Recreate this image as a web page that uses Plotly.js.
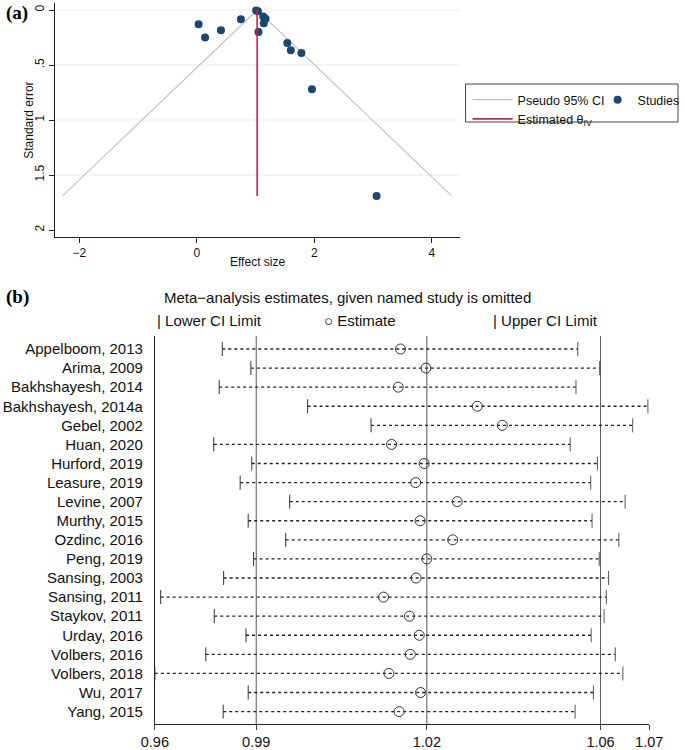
<!DOCTYPE html>
<html><head><meta charset="utf-8">
<script src="https://cdn.plot.ly/plotly-3.0.1.min.js"></script>
<style>html,body{margin:0;padding:0;background:#fff;overflow:hidden;width:685px;height:750px}#chart{width:685px;height:750px;overflow:hidden}</style>
</head><body><div id="chart"></div>
<script>
// ---------- Panel (a): funnel plot ----------
const studyEffect = [0.03, 0.14, 0.41, 0.75, 1.01, 1.04, 1.13, 1.17, 1.14, 1.05, 1.54, 1.60, 1.78, 1.96, 3.06];
const studySE     = [0.13, 0.25, 0.185, 0.085, 0.005, 0.012, 0.06, 0.08, 0.12, 0.20, 0.30, 0.365, 0.39, 0.72, 1.69];
const thetaIV = 1.026;
const maxSE = 1.69;
const seTicks = [0, 0.5, 1, 1.5, 2];
const seTickText = ['0', '.5', '1', '1.5', '2'];
const seGrid = [0, 0.5, 1, 1.5];
const esTicks = [-2, 0, 2, 4];
const esTickText = ['\u22122', '0', '2', '4'];

// ---------- Panel (b): leave-one-out ----------
const studies = ['Appelboom, 2013','Arima, 2009','Bakhshayesh, 2014','Bakhshayesh, 2014a','Gebel, 2002',
  'Huan, 2020','Hurford, 2019','Leasure, 2019','Levine, 2007','Murthy, 2015','Ozdinc, 2016','Peng, 2019',
  'Sansing, 2003','Sansing, 2011','Staykov, 2011','Urday, 2016','Volbers, 2016','Volbers, 2018','Wu, 2017','Yang, 2015'];
const ciLower  = [0.9781,0.9845,0.9774,0.9972,1.0114,0.9762,0.9847,0.9821,0.9932,0.9839,0.9923,0.9851,0.9784,0.9643,0.9763,0.9834,0.9744,0.9630,0.9839,0.9783];
const estimate = [1.0180,1.0237,1.0175,1.0352,1.0408,1.0160,1.0233,1.0214,1.0307,1.0224,1.0297,1.0239,1.0215,1.0142,1.0200,1.0222,1.0202,1.0154,1.0225,1.0177];
const ciUpper  = [1.0577,1.0626,1.0573,1.0734,1.0700,1.0560,1.0621,1.0606,1.0683,1.0609,1.0669,1.0625,1.0646,1.0641,1.0636,1.0607,1.0661,1.0678,1.0612,1.0571];
const overallLines = [0.9857, 1.0239, 1.0628];
const loTicks = [0.9630, 0.9857, 1.0239, 1.0628, 1.0737];
const loTickText = ['0.96', '0.99', '1.02', '1.06', '1.07'];

const W = 685, H = 750;
const px = v => v / W, py = v => 1 - v / H;
const rows = studies.map((s, i) => i + 1);

const sans = 'Liberation Sans, Arial, Helvetica, sans-serif';
const serif = 'Liberation Serif, Times New Roman, serif';

const dotX = [], dotY = [];
ciLower.forEach((lo, i) => { dotX.push(lo, ciUpper[i], null); dotY.push(rows[i], rows[i], null); });

const traces = [
  { x: [thetaIV - 1.96 * maxSE, thetaIV, thetaIV + 1.96 * maxSE], y: [maxSE, 0, maxSE],
    mode: 'lines', line: { color: '#c4c4c4', width: 1.2 }, name: 'Pseudo 95% CI',
    xaxis: 'x', yaxis: 'y', legend: 'legend', hoverinfo: 'skip' },
  { x: studyEffect, y: studySE, mode: 'markers', name: 'Studies',
    marker: { color: '#1a476f', size: 8 }, xaxis: 'x', yaxis: 'y', legend: 'legend2' },
  { x: [thetaIV, thetaIV], y: [0, maxSE], mode: 'lines', name: 'Estimated \u03b8<sub>IV</sub>',
    line: { color: '#c8244a', width: 1.6 }, xaxis: 'x', yaxis: 'y', legend: 'legend' },
  { x: dotX, y: dotY, mode: 'lines', line: { color: '#222', width: 1.3, dash: 'dot' },
    xaxis: 'x2', yaxis: 'y2', showlegend: false, hoverinfo: 'skip' },
  { x: ciLower, y: rows, mode: 'markers', marker: { symbol: 'line-ns', size: 10, line: { color: '#333', width: 1 } },
    xaxis: 'x2', yaxis: 'y2', showlegend: false },
  { x: ciUpper, y: rows, mode: 'markers', marker: { symbol: 'line-ns', size: 10, line: { color: '#555', width: 1 } },
    xaxis: 'x2', yaxis: 'y2', showlegend: false },
  { x: estimate, y: rows, mode: 'markers', marker: { symbol: 'circle-open', size: 10, color: '#333', line: { width: 1 } },
    xaxis: 'x2', yaxis: 'y2', showlegend: false }
];

const shapes = [];
seGrid.forEach(v => shapes.push({ type: 'line', xref: 'x domain', yref: 'y', x0: 0, x1: 1, y0: v, y1: v,
  line: { color: '#ebebeb', width: 1 }, layer: 'below' }));
overallLines.forEach(v => shapes.push({ type: 'line', xref: 'x2', yref: 'y2 domain', x0: v, x1: v, y0: 0, y1: 1,
  line: { color: '#555', width: 1 }, layer: 'below' }));
// legend frame for panel (a)
shapes.push({ type: 'rect', xref: 'paper', yref: 'paper', x0: px(469), x1: px(683), y0: py(84), y1: py(122),
  line: { color: '#444', width: 1 }, fillcolor: 'rgba(0,0,0,0)' });

const annotations = [
  { text: '<b>(a)</b>', x: px(4), y: py(13), xref: 'paper', yref: 'paper', xanchor: 'left', yanchor: 'middle',
    showarrow: false, font: { family: serif, size: 19, color: '#000' } },
  { text: '<b>(b)</b>', x: px(4), y: py(297), xref: 'paper', yref: 'paper', xanchor: 'left', yanchor: 'middle',
    showarrow: false, font: { family: serif, size: 19, color: '#000' } },
  { text: 'Effect size', x: px(259), y: py(262), xref: 'paper', yref: 'paper', xanchor: 'center', yanchor: 'middle',
    showarrow: false, font: { family: sans, size: 12, color: '#111' } },
  { text: 'Standard error', x: px(29), y: py(120), xref: 'paper', yref: 'paper', xanchor: 'center', yanchor: 'middle',
    textangle: -90, showarrow: false, font: { family: sans, size: 12, color: '#111' } },
  { text: 'Meta\u2212analysis estimates, given named study is omitted', x: px(163), y: py(297), xref: 'paper', yref: 'paper',
    xanchor: 'left', yanchor: 'middle', showarrow: false, font: { family: sans, size: 15, color: '#111' } },
  { text: '| Lower CI Limit', x: px(156), y: py(321), xref: 'paper', yref: 'paper', xanchor: 'left', yanchor: 'middle',
    showarrow: false, font: { family: sans, size: 15, color: '#111' } },
  { text: '\u25cb Estimate', x: px(324), y: py(321), xref: 'paper', yref: 'paper', xanchor: 'left', yanchor: 'middle',
    showarrow: false, font: { family: sans, size: 15, color: '#111' } },
  { text: '| Upper CI Limit', x: px(495), y: py(321), xref: 'paper', yref: 'paper', xanchor: 'left', yanchor: 'middle',
    showarrow: false, font: { family: sans, size: 15, color: '#111' } }
];

const layout = {
  width: W, height: H, margin: { l: 0, r: 0, t: 0, b: 0 },
  paper_bgcolor: '#fff', plot_bgcolor: 'rgba(0,0,0,0)',
  font: { family: sans, color: '#111' },
  showlegend: true,
  xaxis: { domain: [px(55), px(463.3)], range: [-2.422, 4.479], tickmode: 'array', tickvals: esTicks, ticktext: esTickText,
    showline: true, linecolor: '#222', linewidth: 1, ticks: 'outside', ticklen: 5, tickcolor: '#222',
    showgrid: false, zeroline: false, tickfont: { size: 12 }, anchor: 'y' },
  yaxis: { domain: [py(237), py(3)], range: [2.0636, -0.0636], tickmode: 'array', tickvals: seTicks, ticktext: seTickText,
    tickangle: -90, showline: true, linecolor: '#222', linewidth: 1, ticks: 'outside', ticklen: 5, tickcolor: '#222',
    showgrid: false, zeroline: false, tickfont: { size: 12 }, anchor: 'x' },
  xaxis2: { domain: [px(156), px(654)], range: [0.9630, 1.0737], tickmode: 'array', tickvals: loTicks, ticktext: loTickText,
    showline: true, linecolor: '#222', linewidth: 1, ticks: 'outside', ticklen: 5, tickcolor: '#444',
    showgrid: false, zeroline: false, tickfont: { size: 14.5 }, anchor: 'y2' },
  yaxis2: { domain: [py(724), py(336)], range: [20.65, 0.319], tickmode: 'array', tickvals: rows, ticktext: studies,
    showline: true, linecolor: '#222', linewidth: 1, ticks: '', ticklabelstandoff: 8,
    showgrid: false, zeroline: false, tickfont: { size: 15 }, anchor: 'x2' },
  legend: { x: px(471), y: py(85), xanchor: 'left', yanchor: 'top', orientation: 'v',
    bgcolor: 'rgba(0,0,0,0)', borderwidth: 0, font: { size: 12.5, color: '#111' }, tracegroupgap: 0, itemwidth: 40 },
  legend2: { x: px(602), y: py(85), xanchor: 'left', yanchor: 'top', orientation: 'v',
    bgcolor: 'rgba(0,0,0,0)', borderwidth: 0, font: { size: 12.5, color: '#111' }, itemwidth: 30 },
  shapes: shapes, annotations: annotations
};

Plotly.newPlot('chart', traces, layout, { displayModeBar: false, staticPlot: true });
</script></body></html>
